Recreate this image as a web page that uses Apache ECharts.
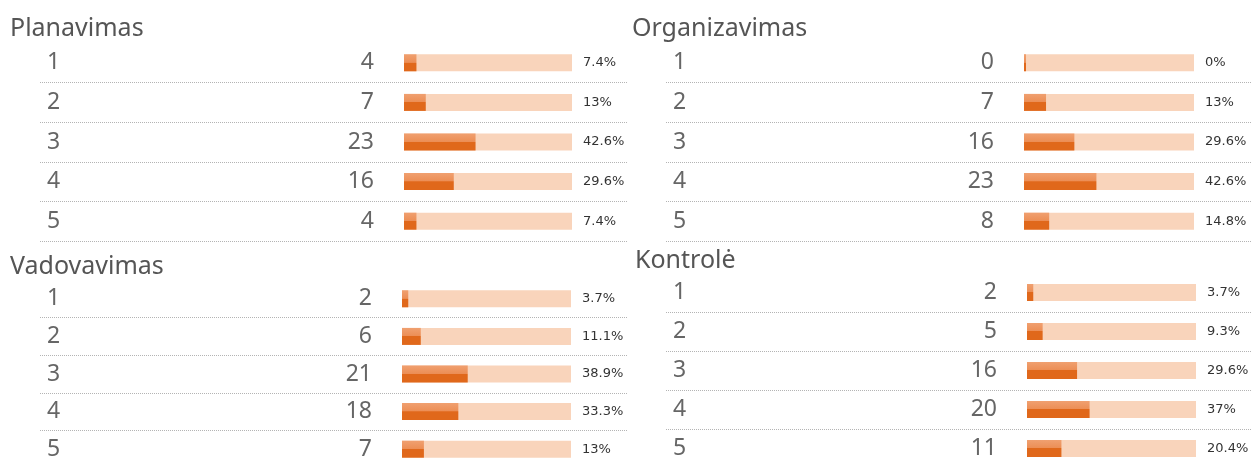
<!DOCTYPE html>
<html>
<head>
<meta charset="utf-8">
<script src="https://cdn.jsdelivr.net/npm/echarts@6/dist/echarts.min.js"></script>
<style>
  html, body { margin: 0; padding: 0; background: #fff; }
  #main { width: 1251px; height: 468px; }
</style>
</head>
<body>
<div id="main"></div>
<script>
// atsakymų variantai ir kiekiai
var categories = ['1', '2', '3', '4', '5'];
var planavimas = [4, 7, 23, 16, 4];
var organizavimas = [0, 7, 16, 23, 8];
var vadovavimas = [2, 6, 21, 18, 7];
var kontrole = [2, 5, 16, 20, 11];
var titles = ['Planavimas', 'Organizavimas', 'Vadovavimas', 'Kontrolė'];

// išdėstymas (pikseliai)
var boxes = [
    {tx: 10,  ty: 16,  left: 40,  right: 628,  top: 43,  b0: 404,  b1: 572},
    {tx: 632, ty: 16,  left: 666, right: 1251, top: 43,  b0: 1024, b1: 1194},
    {tx: 10,  ty: 254, left: 40,  right: 628,  top: 280, b0: 402,  b1: 571},
    {tx: 635, ty: 248, left: 666, right: 1251, top: 273, b0: 1027, b1: 1196}
];
var rowH = 39.6;
var font = 'Noto Sans';

var sets = [planavimas, organizavimas, vadovavimas, kontrole];
var option = {
    animation: false,
    title: [], grid: [], xAxis: [], yAxis: [], series: []
};

sets.forEach(function (vals, i) {
    var b = boxes[i];
    var total = vals.reduce(function (a, c) { return a + c; }, 0);
    var pct = vals.map(function (v) { return Math.round(v / total * 1000) / 10; });
    var k = (b.b1 - b.b0) / total;           // px per unit
    var min = -(b.b0 - b.left) / k;
    var max = total + (b.right - b.b1) / k;

    option.title.push({
        text: titles[i], left: b.tx, top: b.ty, padding: 0,
        textStyle: {fontFamily: font, fontSize: 25, fontWeight: 'normal', color: '#555'}
    });
    option.grid.push({
        left: b.left, top: b.top, width: b.right - b.left, height: rowH * 5
    });
    option.xAxis.push({
        gridIndex: i, type: 'value', min: min, max: max, show: false
    });
    option.yAxis.push({
        gridIndex: i, type: 'category', inverse: true, data: categories,
        axisLine: {show: false}, axisTick: {show: false},
        axisLabel: {inside: true, margin: 7, fontFamily: font, fontSize: 23, color: '#666'},
        splitLine: {show: true, showMinLine: false, lineStyle: {type: 'dotted', color: '#b4b4b4', width: 1}}
    });
    // fonas
    option.series.push({
        type: 'bar', xAxisIndex: i, yAxisIndex: i, barWidth: 17, silent: true,
        data: vals.map(function () { return total; }),
        itemStyle: {color: '#f9d4bb'},
        label: {
            show: true, position: 'right', distance: 11,
            fontFamily: 'DejaVu Sans', fontSize: 13, color: '#333',
            formatter: function (p) { return pct[p.dataIndex] + '%'; }
        },
        z: 1
    });
    // reikšmė
    option.series.push({
        type: 'bar', xAxisIndex: i, yAxisIndex: i, barWidth: 17, barGap: '-100%',
        barMinHeight: 2, silent: true,
        data: vals,
        itemStyle: {
            color: new echarts.graphic.LinearGradient(0, 0, 0, 1, [
                {offset: 0, color: '#f0a070'},
                {offset: 0.48, color: '#ec8e55'},
                {offset: 0.5, color: '#e0681b'},
                {offset: 1, color: '#e0681b'}
            ])
        },
        label: {
            show: true, position: [-30, '50%'], align: 'right', verticalAlign: 'middle',
            fontFamily: font, fontSize: 23, color: '#666'
        },
        z: 2
    });
});

var chart = echarts.init(document.getElementById('main'));
chart.setOption(option);
</script>
</body>
</html>
